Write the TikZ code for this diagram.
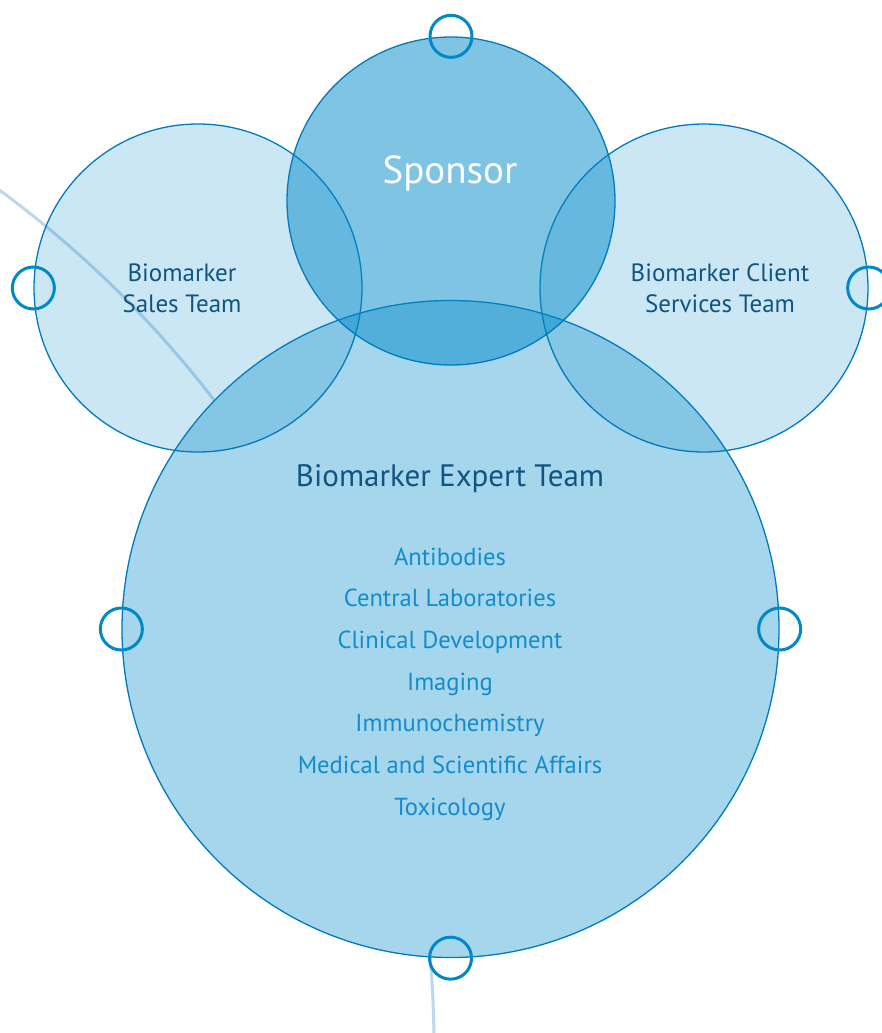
\documentclass[tikz,border=0pt]{standalone}
\usepackage{fontspec}
\setmainfont{PT Sans}
\usetikzlibrary{positioning}
\definecolor{bmblue}{RGB}{0,137,200}
\definecolor{bmline}{RGB}{0,122,192}
\definecolor{bmdark}{RGB}{16,84,130}
\definecolor{bmmid}{RGB}{18,140,204}
\definecolor{bmtrail}{RGB}{188,216,238}
\tikzset{
  team/.style   = {circle, draw=bmline, line width=1.3pt, inner sep=0pt,
                   minimum size=328pt, fill=bmblue, fill opacity=0.2},
  expert/.style = {team, minimum size=657pt, fill=bmblue!35!white,
                   fill opacity=1},
  ring/.style   = {circle, draw=bmblue, line width=3pt, inner sep=0pt,
                   minimum size=42pt},
  lab/.style    = {font=\fontsize{25}{31}\selectfont, text=bmdark,
                   align=center},
  item/.style   = {font=\fontsize{24.6}{41.7}\selectfont, text=bmmid,
                   align=center}
}
\begin{document}
\begin{tikzpicture}[x=1pt,y=-1pt]
    \useasboundingbox (0,0) rectangle (882,1033);
    % thin guide arc behind the circles
    \draw[bmtrail, line width=3pt] (-630,1048) circle (1064);
    % team circles
    \node[expert] (expert) at (450.5,629) {};
    \node[team] (sales)   at (198,288) {};
    \node[team] (client)  at (704,288) {};
    \node[team, fill opacity=0.5] (sponsor) at (451,201) {};
    % small rings on the rims
    \node[ring] (sponsorring) at (sponsor.north) {};
    \node[ring] (salesring)   at (sales.west) {};
    \node[ring] (clientring)  at (client.east) {};
    \node[ring] (expertwest)  at (expert.west) {};
    \node[ring] (experteast)  at (expert.east) {};
    \node[ring] (expertsouth) at (expert.south) {};
    % labels
    \node[anchor=base, text=white, font=\fontsize{39}{42}\selectfont]
         (sponsorlab) at (450,183) {Sponsor};
    \node[lab] (saleslab)  at (182,288) {Biomarker\\Sales Team};
    \node[lab] (clientlab) at (720,288) {Biomarker Client\\Services Team};
    \node[lab, anchor=base, font=\fontsize{31}{34}\selectfont]
         (expertlab) at (450,486) {Biomarker Expert Team};
    \node[item, anchor=north] (units) at (450,544)
         {Antibodies\\Central Laboratories\\Clinical Development\\Imaging\\
          Immunochemistry\\Medical and Scientific Affairs\\Toxicology};
\end{tikzpicture}
\end{document}
